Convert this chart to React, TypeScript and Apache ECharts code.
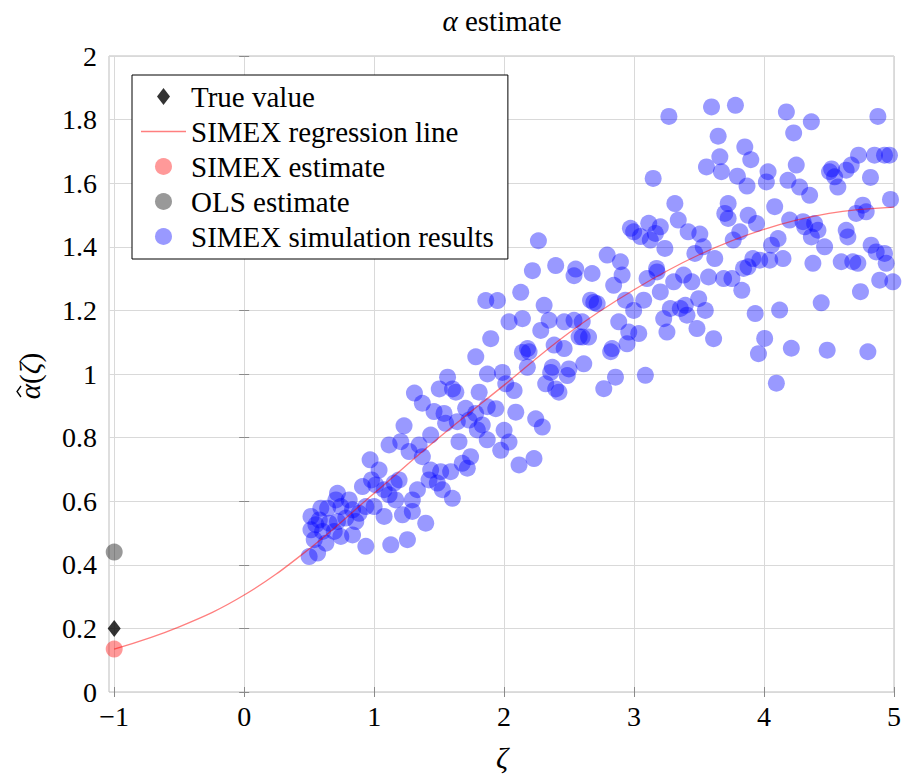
import React, { useEffect, useRef } from 'react';
import * as echarts from 'echarts';

const FONT = '"Liberation Serif", "Times New Roman", "DejaVu Serif", serif';

// axis ticks
const xTicks = [-1, 0, 1, 2, 3, 4, 5];
const yTickStep = 0.2;

// single estimates at zeta = -1
const trueValue: [number, number][] = [[-1, 0.2]];
const simexEstimate: [number, number][] = [[-1, 0.135]];
const olsEstimate: [number, number][] = [[-1, 0.44]];

// SIMEX regression (extrapolation) curve
const regressionZeta = [-1, -0.5, 0, 0.5, 1, 1.5, 2, 2.5, 3, 3.5, 4, 4.5, 5];
const regressionAlpha = [0.135, 0.205, 0.305, 0.45, 0.625, 0.8, 0.965, 1.13, 1.265, 1.375, 1.455, 1.505, 1.525];

// SIMEX simulation results [zeta, alpha-hat]
const simulationResults: [number, number][] = [
  [0.5, 0.426], [0.565, 0.437], [0.539, 0.479], [0.629, 0.468], [0.514, 0.552], [0.552, 0.526], [0.578, 0.541],
  [0.654, 0.531], [0.718, 0.536], [0.782, 0.547], [0.859, 0.536], [0.514, 0.51], [0.603, 0.505], [0.693, 0.505],
  [0.744, 0.489], [0.834, 0.494], [0.59, 0.578], [0.642, 0.578], [0.718, 0.625], [0.706, 0.604], [0.808, 0.604],
  [0.744, 0.583], [0.834, 0.573], [0.885, 0.562], [0.936, 0.583], [1.0, 0.583], [1.077, 0.552], [1.218, 0.557],
  [1.294, 0.568], [1.294, 0.604], [1.333, 0.636], [0.91, 0.646], [0.98, 0.667], [1.013, 0.651], [1.077, 0.636],
  [1.154, 0.657], [1.192, 0.667], [1.115, 0.62], [1.166, 0.604], [0.969, 0.73], [1.038, 0.698], [0.936, 0.458],
  [1.128, 0.463], [1.256, 0.479], [1.397, 0.531], [1.422, 0.667], [1.486, 0.657], [1.525, 0.636], [1.602, 0.609],
  [1.435, 0.698], [1.512, 0.693], [1.589, 0.693], [1.678, 0.719], [1.717, 0.704], [1.742, 0.74], [1.115, 0.777],
  [1.205, 0.787], [1.269, 0.756], [1.346, 0.777], [1.371, 0.74], [1.23, 0.837], [1.435, 0.808], [1.653, 0.787],
  [1.87, 0.793], [1.55, 0.845], [1.64, 0.85], [1.73, 0.855], [1.832, 0.84], [1.794, 0.824], [1.461, 0.882],
  [1.538, 0.876], [1.704, 0.892], [1.781, 0.876], [1.87, 0.897], [1.371, 0.908], [1.31, 0.94],
  [2.141, 1.068], [1.565, 0.99], [1.872, 1.0], [1.987, 1.005], [2.179, 1.021], [2.371, 1.021], [2.358, 1.005],
  [2.499, 1.016], [2.486, 0.995], [2.32, 0.969], [2.397, 0.953], [2.422, 0.943], [2.013, 0.969], [2.077, 0.948],
  [1.501, 0.953], [1.603, 0.953], [1.629, 0.943], [1.808, 0.943], [1.936, 0.891], [2.09, 0.88], [2.243, 0.859],
  [2.294, 0.833], [2.0, 0.823], [2.038, 0.786], [1.974, 0.76], [2.115, 0.714], [2.23, 0.734],
  [2.264, 1.419], [2.218, 1.325], [2.397, 1.341], [2.551, 1.33], [2.538, 1.309], [1.859, 1.231], [1.949, 1.231],
  [2.128, 1.257], [2.308, 1.216], [2.038, 1.164], [2.141, 1.174], [2.282, 1.137], [2.346, 1.169], [2.462, 1.164],
  [2.538, 1.169], [1.897, 1.111], [2.18, 1.08], [2.192, 1.07], [2.385, 1.091], [2.462, 1.08], [2.577, 1.117],
  [1.782, 1.054],
  [2.972, 1.458], [2.997, 1.447], [3.049, 1.432], [3.113, 1.474], [3.202, 1.463], [3.164, 1.442], [3.125, 1.421],
  [2.793, 1.374], [2.895, 1.353], [2.677, 1.316], [2.908, 1.311], [2.843, 1.279], [3.1, 1.3], [3.177, 1.321],
  [3.305, 1.29], [3.381, 1.311], [3.445, 1.29], [3.573, 1.305], [3.689, 1.3], [3.753, 1.3], [3.829, 1.263],
  [3.842, 1.332], [3.202, 1.258], [2.716, 1.221], [2.69, 1.225], [2.665, 1.232], [2.933, 1.232], [3.074, 1.232],
  [2.997, 1.2], [3.279, 1.206], [3.356, 1.206], [3.394, 1.216], [3.407, 1.185], [3.497, 1.237], [3.548, 1.2],
  [3.228, 1.174], [2.882, 1.164], [2.601, 1.164], [2.959, 1.132], [3.036, 1.127], [2.946, 1.095], [3.253, 1.132],
  [3.484, 1.143], [3.612, 1.111], [2.831, 1.08], [2.82, 1.07], [2.601, 1.116], [2.65, 1.116], [2.613, 1.032],
  [2.857, 0.99], [3.087, 0.996], [2.767, 0.954], [3.932, 1.19], [3.957, 1.064],
  [3.268, 1.81], [3.596, 1.84], [3.78, 1.845], [4.172, 1.824], [4.364, 1.793], [4.876, 1.81], [3.647, 1.748],
  [4.228, 1.758], [3.852, 1.714], [3.898, 1.674], [3.66, 1.683], [3.557, 1.651], [3.672, 1.636], [3.795, 1.622],
  [3.869, 1.591], [4.031, 1.636], [4.018, 1.604], [4.184, 1.609], [4.248, 1.657], [4.274, 1.588], [4.351, 1.562],
  [3.147, 1.615], [4.504, 1.636], [4.52, 1.645], [4.543, 1.62], [4.568, 1.588], [4.632, 1.641], [4.671, 1.657],
  [4.727, 1.688], [4.85, 1.688], [4.927, 1.688], [4.965, 1.688], [4.819, 1.618], [4.973, 1.549], [3.314, 1.536],
  [3.34, 1.484], [3.416, 1.447], [3.506, 1.44], [3.532, 1.4], [3.468, 1.379], [3.621, 1.363], [3.724, 1.536],
  [3.698, 1.505], [3.724, 1.489], [3.814, 1.447], [3.763, 1.421], [3.878, 1.499], [3.942, 1.473], [4.082, 1.526],
  [4.108, 1.426], [4.057, 1.405], [4.146, 1.363], [4.197, 1.484], [4.3, 1.479], [4.313, 1.463], [4.389, 1.473],
  [4.415, 1.452], [4.364, 1.431], [4.466, 1.4], [4.632, 1.452], [4.645, 1.431], [4.76, 1.531], [4.786, 1.51],
  [4.709, 1.505], [4.824, 1.405], [4.863, 1.384], [4.927, 1.379], [4.94, 1.348], [4.594, 1.353], [4.683, 1.353],
  [4.722, 1.348], [4.376, 1.348], [3.877, 1.337], [3.914, 1.363], [3.237, 1.395], [3.173, 1.332],
  [4.89, 1.295], [4.991, 1.29], [4.742, 1.259], [4.44, 1.224], [4.12, 1.201], [4.005, 1.112], [4.21, 1.081],
  [4.486, 1.075], [4.799, 1.07], [4.095, 0.971], [3.967, 1.358], [4.044, 1.358],
];

const BLUE = 'rgba(0,0,255,0.5)';
const RED = 'rgba(255,0,0,0.5)';
const GRAY = 'rgba(0,0,0,0.5)';
const GRID_LINE = '#d9d9d9';
const FRAME = '#bdbdbd';
const TICK = '#8a8a8a';

function buildOption(): any {
  const tickCommon = { inside: true, length: 5, lineStyle: { color: TICK, width: 1 } };
  const labelStyle = { fontFamily: FONT, fontSize: 28, color: '#000' };
  const fmtX = (v: number) => (v < 0 ? '\u2212' + Math.abs(v) : String(v));
  const fmtY = (v: number) => String(Math.round(v * 10) / 10);
  return {
    animation: false,
    backgroundColor: '#fff',
    grid: {
      left: 109, right: 9, top: 56, bottom: 83,
      show: true, borderColor: FRAME, borderWidth: 1, backgroundColor: 'transparent',
    },
    xAxis: [
      {
        type: 'value', min: -1.04, max: 5, position: 'bottom',
        axisLine: { show: false },
        axisTick: { ...tickCommon, customValues: xTicks },
        axisLabel: { ...labelStyle, margin: 10, customValues: xTicks, formatter: fmtX },
        splitLine: { show: true, lineStyle: { color: GRID_LINE, width: 1 } },
      },
      {
        type: 'value', min: -1.04, max: 5, position: 'top',
        axisLine: { show: false },
        axisTick: { ...tickCommon, customValues: xTicks },
        axisLabel: { show: false },
        splitLine: { show: false },
      },
    ],
    yAxis: [
      {
        type: 'value', min: 0, max: 2, interval: yTickStep, position: 'left',
        axisLine: { show: false },
        axisTick: tickCommon,
        axisLabel: { ...labelStyle, margin: 12, formatter: fmtY },
        splitLine: { show: true, lineStyle: { color: GRID_LINE, width: 1 } },
      },
      {
        type: 'value', min: 0, max: 2, interval: yTickStep, position: 'right',
        axisLine: { show: false },
        axisTick: tickCommon,
        axisLabel: { show: false },
        splitLine: { show: false },
      },
    ],
    legend: {
      show: true,
      orient: 'vertical',
      left: 132,
      top: 75,
      padding: [4, 14, 5, 9],
      itemGap: 0,
      itemWidth: 45,
      itemHeight: 17,
      borderColor: '#000',
      borderWidth: 1,
      borderRadius: 0,
      backgroundColor: '#fff',
      selectedMode: false,
      textStyle: { fontFamily: FONT, fontSize: 29, color: '#000', lineHeight: 35 },
      data: [
        { name: 'True value', icon: 'path://M0,-8.5L6.5,0L0,8.5L-6.5,0Z' },
        { name: 'SIMEX regression line', icon: 'path://M0,0L45,0L45,1.3L0,1.3Z' },
        { name: 'SIMEX estimate', icon: 'circle' },
        { name: 'OLS estimate', icon: 'circle' },
        { name: 'SIMEX simulation results', icon: 'circle' },
      ],
    },
    graphic: [
      {
        type: 'text', x: 502, y: 21, silent: true,
        style: {
          text: '{i|\u03b1} estimate',
          rich: { i: { fontStyle: 'italic', fontFamily: FONT, fontSize: 29, fill: '#000' } },
          fontFamily: FONT, fontSize: 29, fill: '#000', align: 'center', verticalAlign: 'middle',
        },
      },
      {
        type: 'text', x: 502, y: 757, silent: true,
        style: {
          text: '\u03b6', fontStyle: 'italic', fontFamily: FONT, fontSize: 30, fill: '#000',
          align: 'center', verticalAlign: 'middle',
        },
      },
      {
        type: 'group', x: 30, y: 376, rotation: Math.PI / 2, silent: true,
        children: [
          {
            type: 'text', x: 0, y: 0, silent: true,
            style: {
              text: '{i|\u03b1}({i|\u03b6})',
              rich: { i: { fontStyle: 'italic', fontFamily: FONT, fontSize: 29, fill: '#000' } },
              fontFamily: FONT, fontSize: 29, fill: '#000', align: 'center', verticalAlign: 'middle',
            },
          },
          {
            type: 'polyline', silent: true,
            shape: { points: [[-21, -9], [-15.5, -13], [-10, -9]] },
            style: { stroke: '#000', lineWidth: 1.3, fill: 'none' },
          },
        ],
      },
    ],
    series: [
      {
        name: 'SIMEX simulation results', type: 'scatter', symbol: 'circle', symbolSize: 17,
        data: simulationResults, itemStyle: { color: BLUE }, silent: true, emphasis: { disabled: true },
      },
      {
        name: 'SIMEX regression line', type: 'line', smooth: 0.4, symbol: 'none', showSymbol: false,
        data: regressionZeta.map((z, i) => [z, regressionAlpha[i]]),
        lineStyle: { color: RED, width: 1.3 }, itemStyle: { color: RED }, silent: true,
        emphasis: { disabled: true },
      },
      {
        name: 'SIMEX estimate', type: 'scatter', symbol: 'circle', symbolSize: 17, clip: false,
        data: simexEstimate, itemStyle: { color: RED }, silent: true, emphasis: { disabled: true },
      },
      {
        name: 'OLS estimate', type: 'scatter', symbol: 'circle', symbolSize: 17, clip: false,
        data: olsEstimate, itemStyle: { color: GRAY }, silent: true, emphasis: { disabled: true },
      },
      {
        name: 'True value', type: 'scatter', symbol: 'diamond', symbolSize: [13, 17], clip: false,
        data: trueValue, itemStyle: { color: '#000' }, silent: true, emphasis: { disabled: true },
      },
    ],
  };
}

export default function App() {
  const ref = useRef<HTMLDivElement>(null);
  useEffect(() => {
    document.body.style.margin = '0';
    const chart = echarts.init(ref.current as HTMLDivElement, null, { renderer: 'svg' });
    chart.setOption(buildOption());
    return () => {
      chart.dispose();
    };
  }, []);
  return <div ref={ref} style={{ width: 904, height: 775 }} />;
}
